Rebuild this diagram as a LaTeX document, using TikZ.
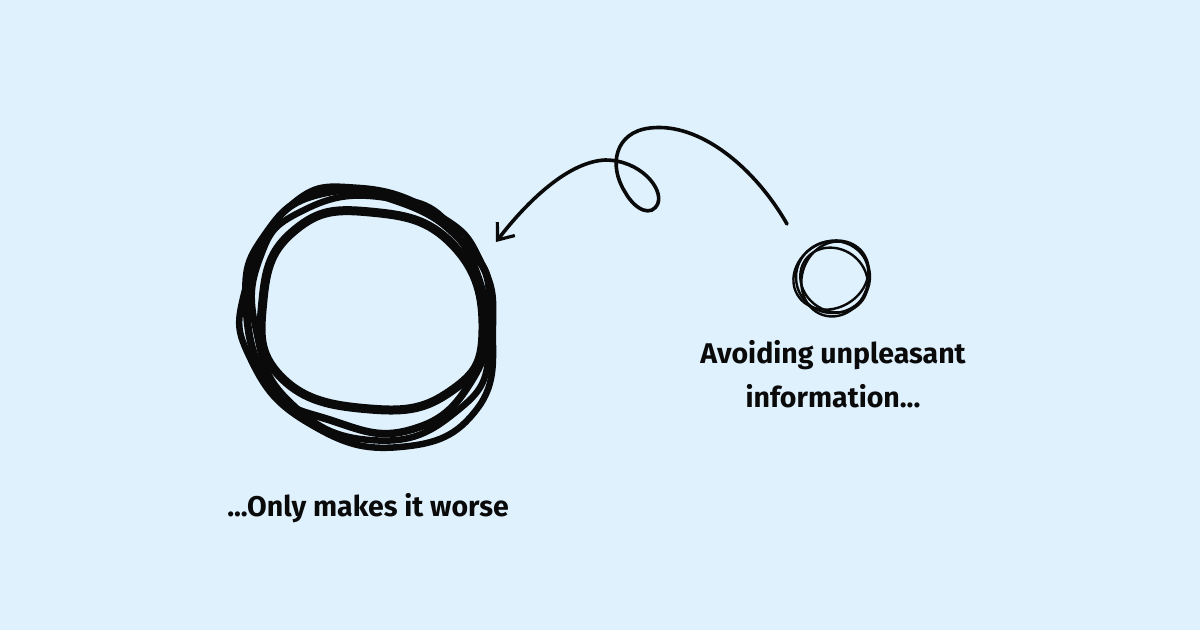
\documentclass[tikz,border=0pt]{standalone}
\usepackage{fontspec}
\setmainfont{Fira Sans}
\usepackage{tikz}
\usetikzlibrary{positioning,arrows.meta}

\definecolor{paper}{HTML}{DFF1FD}
\definecolor{ink}{HTML}{0A0A0A}

\begin{document}
\begin{tikzpicture}[
  x=1pt, y=-1pt,
  scribble/.style={draw=ink, line width=#1, line join=round},
  scribble/.default=6pt,
  thinscribble/.style={draw=ink, line width=2.4pt},
  caption/.style={text=ink, font=\fontsize{28.5}{44}\selectfont\bfseries,
    align=center, inner sep=0pt, anchor=base},
  swirl/.style={draw=ink, line width=3.6pt, line cap=round,
    -{Straight Barb[length=14pt,width=22pt,line width=3.2pt]}},
]
\fill[paper] (0,0) rectangle (1200,630);
\useasboundingbox (0,0) rectangle (1200,630);

% big knot
\coordinate (big) at (368,318);
\draw[scribble=9pt] plot[smooth cycle, tension=0.8] coordinates {(483,330) (451,391) (370,409)
  (281,377) (263,300) (295,230) (370,212) (453,245)};
\draw[scribble=6.5pt] plot[smooth cycle, tension=0.8] coordinates {(493,325) (477,409) (400,447)
  (310,424) (251,360) (245,290) (290,206) (360,188) (440,216) (481,262)};
\draw[scribble=7.5pt] plot[smooth cycle, tension=0.8] coordinates {(490,300) (472,380) (410,430)
  (330,420) (270,385) (246,300) (265,235) (320,194) (400,202) (465,245)};
\draw[scribble=6.5pt] plot[smooth cycle, tension=0.8] coordinates {(489,345) (452,415) (370,440)
  (290,402) (256,330) (260,258) (300,212) (380,197) (455,232)};

% small knot
\coordinate (small) at (833,277);
\draw[thinscribble] (small) ellipse[x radius=37, y radius=36, rotate=10];
\draw[thinscribble] ([shift={(2,2)}]small) ellipse[x radius=33, y radius=38, rotate=-20];
\draw[thinscribble] ([shift={(-2,-2)}]small) ellipse[x radius=39, y radius=33, rotate=30];
\draw[thinscribble] ([shift={(1,3)}]small) ellipse[x radius=35, y radius=31, rotate=-35];

% the arrow with its loop
\coordinate (start) at (787,224);
\coordinate (tip) at (496,242);
\draw[swirl] (start) .. controls (755,168) and (700,122) .. (650,128)
  .. controls (615,132) and (608,165) .. (625,192)
  .. controls (635,210) and (652,218) .. (658,203)
  .. controls (663,188) and (640,160) .. (605,160)
  .. controls (565,162) and (522,208) .. (tip);

\node[caption] (avoid) at (833,407) {Avoiding unpleasant\\information...};
\node[caption] (worse) at (368,516) {...Only makes it worse};
\end{tikzpicture}
\end{document}
